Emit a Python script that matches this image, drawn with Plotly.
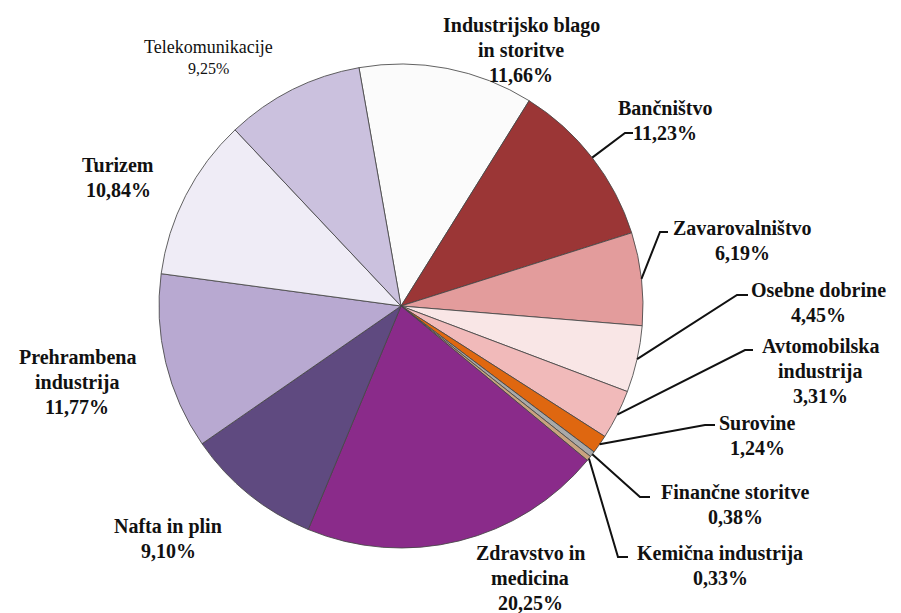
import math
import plotly.graph_objects as go

# ---- data ----
categories = ["Industrijsko blago in storitve", "Bančništvo", "Zavarovalništvo",
              "Osebne dobrine", "Avtomobilska industrija", "Surovine",
              "Finančne storitve", "Kemična industrija", "Zdravstvo in medicina",
              "Nafta in plin", "Prehrambena industrija", "Turizem", "Telekomunikacije"]
values = [11.66, 11.23, 6.19, 4.45, 3.31, 1.24, 0.38, 0.33, 20.25, 9.10, 11.77, 10.84, 9.25]
label_lines = [["Industrijsko blago", "in storitve"], ["Bančništvo"], ["Zavarovalništvo"],
               ["Osebne dobrine"], ["Avtomobilska", "industrija"], ["Surovine"],
               ["Finančne storitve"], ["Kemična industrija"], ["Zdravstvo in", "medicina"],
               ["Nafta in plin"], ["Prehrambena", "industrija"], ["Turizem"], ["Telekomunikacije"]]
colors = ["#fbfbfb", "#9b3636", "#e39c9c", "#f9e6e6", "#f1baba", "#df6710",
          "#a9a9a9", "#c9a27f", "#8a2b8a", "#5f4a80", "#b8a9d1", "#efecf6", "#cbc1de"]

# ---- layout constants (page pixels) ----
OFF = 8                      # browser body margin
W, H = 901 - OFF, 613 - OFF  # figure size
CX, CY, R = 401, 306, 242
ROT = -10
label_pos = [(521, 25), (665, 108), (742, 228), (818, 290), (820, 346), (757, 423),
             (735, 492), (720, 553), (530, 553), (168, 526), (77, 357), (118, 165), (208, 47)]
elbows = {1: (625, 133, 633), 2: (660, 232, 668), 3: (737, 295, 748), 4: (745, 350, 753),
          5: (705, 425, 715), 6: (640, 497, 650), 7: (618, 557, 628)}
FONT = "Liberation Serif, Times New Roman, serif"


def px(x):
    return (x - OFF) / W


def py(y):
    return 1 - (y - OFF) / H


fig = go.Figure(go.Pie(
    labels=categories, values=values, sort=False, direction="clockwise", rotation=ROT,
    marker=dict(colors=colors, line=dict(color="rgba(70,70,70,0.85)", width=1)),
    textinfo="none", hoverinfo="label+percent", showlegend=False,
    domain=dict(x=[px(CX - R), px(CX + R)], y=[py(CY + R), py(CY - R)]),
))

annotations = []
shapes = []
total = sum(values)
cum = 0.0
for i, v in enumerate(values):
    mid = math.radians(ROT + (cum + v / 2) / total * 360)
    cum += v
    pct = f"{v:.2f}".replace(".", ",") + "%"
    lines = label_lines[i] + [pct]
    lx, ly = label_pos[i]
    small = (i == len(values) - 1)
    step = 21 if small else 25
    for k, t in enumerate(lines):
        if small:
            size = 18 if k == 0 else 16
        else:
            size = 20
        annotations.append(dict(
            x=px(lx), y=py(ly + k * step), xref="paper", yref="paper",
            text=t if small else f"<b>{t}</b>", showarrow=False,
            xanchor="center", yanchor="middle",
            font=dict(family=FONT, size=size, color="#111111")))
    if i in elbows:
        sx = CX + R * math.sin(mid)
        sy = CY - R * math.cos(mid)
        ex, ey, hx = elbows[i]
        shapes.append(dict(
            type="path", xref="paper", yref="paper",
            path=f"M {px(sx)},{py(sy)} L {px(ex)},{py(ey)} L {px(hx)},{py(ey)}",
            line=dict(color="#111111", width=2)))

fig.update_layout(
    width=W, height=H, margin=dict(l=0, r=0, t=0, b=0),
    paper_bgcolor="white", plot_bgcolor="white",
    font=dict(family=FONT),
    annotations=annotations, shapes=shapes,
)

fig.write_html("out.html")
